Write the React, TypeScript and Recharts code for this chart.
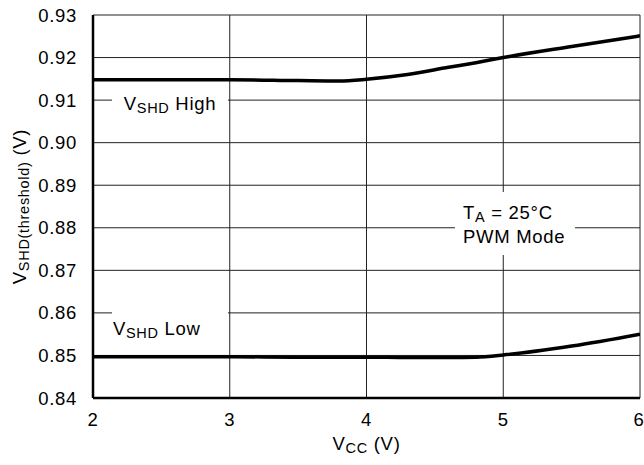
import React from 'react';
import { LineChart, Line, XAxis, YAxis, CartesianGrid, ReferenceArea, ReferenceDot } from 'recharts';

const vcc = [2, 2.5, 3, 3.5, 3.8, 4, 4.3, 4.6, 4.8, 5, 5.5, 6];
const vshdHigh = [0.9148, 0.9148, 0.9148, 0.9146, 0.9145, 0.9149, 0.916, 0.9177, 0.9188, 0.92, 0.9226, 0.9251];
const vshdLow = [0.8497, 0.8497, 0.8497, 0.8496, 0.8496, 0.8496, 0.8495, 0.8495, 0.8496, 0.8501, 0.8522, 0.855];
const xTicks = [2, 3, 4, 5, 6];
const yTicks = [0.84, 0.85, 0.86, 0.87, 0.88, 0.89, 0.9, 0.91, 0.92, 0.93];

const data = vcc.map((v, i) => ({ vcc: v, high: vshdHigh[i], low: vshdLow[i] }));

const FONT = '"Liberation Sans", Arial, Helvetica, sans-serif';
const FS = 18.5;
const LS = 0.7;

const SubText = (props: any) => {
  const { x, y, main, sub, rest, anchor = 'start', rotate } = props;
  return (
    <text
      x={x}
      y={y}
      fontFamily={FONT}
      fontSize={FS}
      letterSpacing={LS}
      fill="#000"
      textAnchor={anchor}
      dominantBaseline="central"
      transform={rotate ? `rotate(-90, ${x}, ${y})` : undefined}
    >
      <tspan>{main}</tspan>
      <tspan fontSize={14.5} dy={5}>{sub}</tspan>
      <tspan dy={-5}>{rest}</tspan>
    </text>
  );
};

const YLabel = (props: any) => {
  const vb = props.viewBox || { x: 0, y: 15, width: 93, height: 383 };
  const cx = vb.x + 19;
  const cy = vb.y + vb.height / 2;
  return <SubText x={cx} y={cy} main="V" sub="SHD(threshold)" rest=" (V)" anchor="middle" rotate />;
};

const XLabel = (props: any) => {
  const vb = props.viewBox || { x: 93, y: 398, width: 547, height: 30 };
  return <SubText x={vb.x + vb.width / 2} y={vb.y + 45} main="V" sub="CC" rest=" (V)" anchor="middle" />;
};

const HighText = (p: any) => <SubText x={p.cx} y={p.cy} main="V" sub="SHD" rest=" High" anchor="middle" />;
const LowText = (p: any) => <SubText x={p.cx} y={p.cy} main="V" sub="SHD" rest=" Low" anchor="start" />;
const TaText = (p: any) => <SubText x={p.cx} y={p.cy} main="T" sub="A" rest=" = 25°C" anchor="start" />;
const PwmText = (p: any) => (
  <text x={p.cx} y={p.cy} fontFamily={FONT} fontSize={FS} letterSpacing={LS} fill="#000" dominantBaseline="central">
    PWM Mode
  </text>
);

export default function App() {
  return (
    <div style={{ position: 'absolute', left: 0, top: 0, background: '#fff' }}>
      <LineChart width={644} height={465} data={data} margin={{ top: 15, right: 4, bottom: 37, left: 0 }}>
        <CartesianGrid stroke="#222" strokeWidth={1} />
        <XAxis
          dataKey="vcc"
          type="number"
          domain={[2, 6]}
          ticks={xTicks}
          height={30}
          tickLine={false}
          tickMargin={9}
          axisLine={{ stroke: '#000', strokeWidth: 2.5 }}
          tick={{ fill: '#000', fontSize: FS, fontFamily: FONT, letterSpacing: LS }}
          label={{ content: <XLabel /> }}
          allowDataOverflow
        />
        <YAxis
          type="number"
          domain={[0.84, 0.93]}
          ticks={yTicks}
          width={93}
          tickLine={false}
          tickMargin={10}
          tickFormatter={(v: number) => v.toFixed(2)}
          axisLine={{ stroke: '#000', strokeWidth: 2.5 }}
          tick={{ fill: '#000', fontSize: FS, fontFamily: FONT, letterSpacing: LS }}
          label={{ content: <YLabel /> }}
          allowDataOverflow
        />
        <ReferenceArea x1={2.139} x2={2.987} y1={0.9055} y2={0.9125} fill="#fff" fillOpacity={1} stroke="none" />
        <ReferenceArea x1={2.139} x2={2.987} y1={0.8535} y2={0.8625} fill="#fff" fillOpacity={1} stroke="none" />
        <ReferenceArea x1={4.647} x2={5.525} y1={0.8736} y2={0.8884} fill="#fff" fillOpacity={1} stroke="none" />
        <ReferenceDot x={2.563} y={0.90932} r={1} shape={HighText} />
        <ReferenceDot x={2.146} y={0.85646} r={1} shape={LowText} />
        <ReferenceDot x={4.706} y={0.88371} r={1} shape={TaText} />
        <ReferenceDot x={4.706} y={0.87784} r={1} shape={PwmText} />
        <Line dataKey="high" type="monotone" stroke="#000" strokeWidth={3.5} dot={false} isAnimationActive={false} />
        <Line dataKey="low" type="monotone" stroke="#000" strokeWidth={3.5} dot={false} isAnimationActive={false} />
      </LineChart>
    </div>
  );
}
